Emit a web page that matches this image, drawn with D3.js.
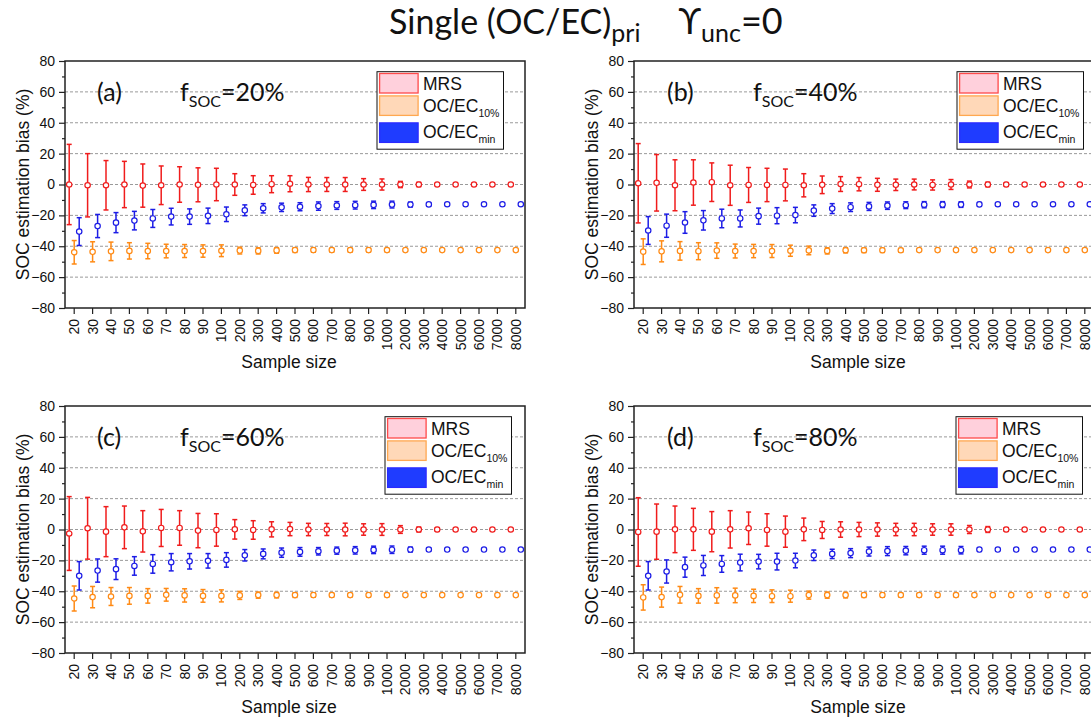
<!DOCTYPE html>
<html>
<head>
<meta charset="utf-8">
<script src="https://cdn.jsdelivr.net/npm/d3@7"></script>
<style>
body { margin: 0; background: #fff; }
text { font-family: Arial, "Liberation Sans", sans-serif; fill: #111; }
</style>
</head>
<body>
<script>
// sample sizes on the x axis
var sizes = ["20", "30", "40", "50", "60", "70", "80", "90", "100", "200", "300", "400", "500",
             "600", "700", "800", "900", "1000", "2000", "3000", "4000", "5000", "6000", "7000", "8000"];
var yTicks = [-80, -60, -40, -20, 0, 20, 40, 60, 80];
var yMinor = [-70, -50, -30, -10, 10, 30, 50, 70];
var gridVals = [-60, -40, -20, 0, 20, 40, 60];
var seriesNames = ["MRS", "OC/EC", "OC/EC"];
var seriesSubs = ["", "10%", "min"];

// (a) fSOC = 20%
var aMrs = [0, -0.5, -0.5, 0, -0.7, -0.5, 0, -0.2, 0, 0, -0.3, 0.2, 0.5, 0, 0, 0, 0, 0, 0, 0, 0, 0, 0, 0, 0];
var aMrsErr = [26, 20.5, 16, 15, 14, 12.5, 11.5, 11, 10.5, 7, 6, 5.5, 5.2, 4.6, 4.5, 4.5, 3.8, 3.6, 2, 1.4, 0.4, 0.3, 0.3, 0.2, 0.2];
var aOc10 = [-43.9, -43.6, -43.3, -43, -43.1, -43.1, -43.1, -43.1, -42.9, -42.8, -43, -42.7, -42.5, -42.5, -42.5, -42.5, -42.5, -42.5, -42.5, -42.5, -42.5, -42.5, -42.5, -42.5, -42.5];
var aOc10Err = [7.6, 6.5, 6, 5.3, 5, 4.4, 4.2, 4, 3.8, 2.2, 2, 1.8, 1.5, 1.4, 1.3, 1.3, 1.2, 1.1, 0.6, 0.5, 0.4, 0.4, 0.3, 0.3, 0.3];
var aMin = [-30.5, -26.9, -24.7, -23.4, -22, -20.8, -20.8, -20.3, -19.3, -16.7, -15.4, -14.8, -14.4, -14, -13.6, -13.4, -13.2, -13, -13, -12.9, -12.8, -12.8, -12.8, -12.8, -12.8];
var aMinErr = [9, 7.5, 6.5, 6, 5.8, 5.4, 5, 5, 4.7, 3.5, 3, 2.7, 2.6, 2.7, 2.5, 2.5, 2.4, 2.2, 1.6, 1, 0.4, 0.3, 0.3, 0.3, 0.3];

// (b) fSOC = 40%
var bMrs = [0.8, 1.1, -0.5, 1.3, 1.5, -0.5, -0.3, -0.3, -0.3, -0.5, -0.2, 0.3, 0.2, -0.2, -0.2, 0, -0.3, 0, 0, 0, 0, 0, 0, 0, 0];
var bMrsErr = [25.7, 18.3, 16.5, 14.7, 12.5, 13, 11.3, 10.8, 10.3, 7.5, 5.7, 4.8, 4.3, 4.2, 3.7, 3.5, 3.3, 3.2, 2.2, 1.5, 1.2, 1.1, 0.9, 0.5, 0.3];
var bOc10 = [-43.5, -43.3, -43, -43.2, -42.8, -43.1, -43.1, -43.1, -42.9, -42.7, -43, -42.6, -42.6, -42.6, -42.6, -42.5, -42.5, -42.5, -42.5, -42.5, -42.5, -42.5, -42.5, -42.5, -42.5];
var bOc10Err = [8.3, 6.8, 6, 5.5, 5, 4.5, 4.3, 4.2, 3.6, 2.8, 2, 1.7, 1.5, 1.4, 1.2, 0.6, 0.5, 0.5, 0.4, 0.4, 0.3, 0.3, 0.3, 0.3, 0.3];
var bMin = [-29.8, -26.7, -24.6, -23.2, -22, -22, -20.5, -20.2, -19.8, -16.9, -15.6, -14.7, -14.2, -13.7, -13.4, -13.1, -13, -13, -12.9, -12.8, -12.8, -12.8, -12.8, -12.8, -12.8];
var bMinErr = [9, 7.5, 7, 6.3, 6, 5.5, 5.2, 5.2, 5, 3.7, 3.2, 2.8, 2.6, 2.4, 2.2, 2, 1.9, 1.8, 1.2, 0.5, 0.4, 0.3, 0.3, 0.3, 0.3];

// (c) fSOC = 60%
var cMrs = [-2.6, 0.8, -1.4, 1.4, -1.2, 1, 1, -0.7, -0.3, 0.1, -0.3, 0.1, 0.3, 0, 0, 0, 0, 0, 0, 0, 0, 0, 0, 0, 0];
var cMrsErr = [23.9, 20, 16.2, 13.8, 13.4, 12, 11.2, 11.1, 10.5, 6.3, 6, 4.9, 4.3, 4, 3.9, 4.1, 3.7, 3.8, 2.5, 1.6, 1.2, 0.5, 0.4, 0.3, 0.3];
var cOc10 = [-44.7, -43.8, -43.4, -43, -43, -42.3, -42.7, -43, -43, -42.7, -42.5, -42.5, -42.5, -42.5, -42.5, -42.5, -42.5, -42.5, -42.5, -42.5, -42.5, -42.5, -42.5, -42.5, -42.5];
var cOc10Err = [8.1, 6.9, 5.8, 5.4, 4.7, 4.1, 4.3, 4.1, 3.9, 2.6, 2, 1.8, 1.5, 1.4, 1.3, 1.2, 1.2, 1.1, 0.6, 0.5, 0.4, 0.4, 0.3, 0.3, 0.3];
var cMin = [-30, -26.6, -25.7, -23.6, -22.3, -21.2, -20.6, -20.3, -19.7, -16.7, -15.8, -15, -14.5, -14.1, -13.7, -13.5, -13.2, -13.1, -13, -13, -13, -13, -13, -13, -13];
var cMinErr = [9.2, 7.5, 6.7, 6, 6, 5.6, 5, 4.7, 4.7, 3.7, 3.2, 3, 2.8, 2.4, 2.3, 2.4, 2.4, 2.4, 1.6, 1, 0.4, 0.3, 0.3, 0.3, 0.3];

// (d) fSOC = 80%
var dMrs = [-1.6, -1.4, 0.1, 0.1, -1.4, 0.1, 0.8, -0.3, -1.4, 0.1, -0.3, 0, 0, 0, 0, 0, 0, 0, 0, 0, 0, 0, 0, 0, 0];
var dMrsErr = [22.2, 17.9, 15.1, 13.6, 13, 12.1, 10.5, 10.5, 10.1, 7.3, 5.5, 5, 4.6, 4.3, 4, 4, 3.7, 3.7, 2.6, 1.9, 1.2, 0.5, 0.4, 0.3, 0.3];
var dOc10 = [-44, -43.8, -42.3, -43, -42.7, -42.7, -43, -43.2, -43.2, -42.5, -42.5, -42.5, -42.5, -42.5, -42.5, -42.5, -42.5, -42.5, -42.5, -42.5, -42.5, -42.5, -42.5, -42.5, -42.5];
var dOc10Err = [8.2, 6.5, 5.4, 4.7, 5, 4.7, 4.3, 4.1, 3.9, 2.6, 2, 1.8, 1.5, 1.4, 1.3, 1.2, 1.2, 1.1, 0.6, 0.5, 0.4, 0.4, 0.3, 0.3, 0.3];
var dMin = [-30, -27.2, -24.4, -23.3, -22.3, -21.4, -20.8, -20.8, -20.1, -16.7, -15.8, -15.3, -14.3, -14, -13.7, -13.4, -13.4, -13.4, -13, -13, -13, -13, -13, -13, -13];
var dMinErr = [9.2, 7.5, 6.5, 6.5, 5.4, 5.4, 4.7, 5.4, 4.7, 3.4, 3, 2.9, 2.9, 2.9, 2.7, 2.6, 2.6, 2.4, 1.2, 0.5, 0.4, 0.3, 0.3, 0.3, 0.3];

var W = 1091, H = 722;
var pw = 460, ph = 247;

var lineColors = ["#f01c1c", "#ff8a14", "#1c1ce6"];
var swFill = ["#ffd0dc", "#ffd8b8", "#1f3cff"];
var swStroke = ["#ff4a4a", "#ffa850", "#2a2aff"];
var dxOff = [-5, 0, 5];

var panels = [
    {tag: "(a)", f: "20%", left: 65, top: 61, leg: 312, lab: 32, fx: 115,
     m: [aMrs, aOc10, aMin], e: [aMrsErr, aOc10Err, aMinErr]},
    {tag: "(b)", f: "40%", left: 634, top: 61, leg: 323, lab: 33, fx: 119,
     m: [bMrs, bOc10, bMin], e: [bMrsErr, bOc10Err, bMinErr]},
    {tag: "(c)", f: "60%", left: 65, top: 406, leg: 320, lab: 32, fx: 115,
     m: [cMrs, cOc10, cMin], e: [cMrsErr, cOc10Err, cMinErr]},
    {tag: "(d)", f: "80%", left: 634, top: 406, leg: 322, lab: 33, fx: 119,
     m: [dMrs, dOc10, dMin], e: [dMrsErr, dOc10Err, dMinErr]}
];

var svg = d3.select("body").append("svg")
            .attr("width", W)
            .attr("height", H);

// title, one text so the pieces flow
var tf = "Lato, 'Open Sans', sans-serif";
var title = svg.append("text")
               .attr("x", 389).attr("y", 34)
               .style("font-family", tf)
               .style("font-size", "34px")
               .text("Single (OC/EC)");
title.append("tspan").attr("dy", 8).style("font-size", "25px").text("pri");
title.append("tspan").attr("dx", 38).attr("dy", -8).style("font-size", "36px").text("\u03d2");
title.append("tspan").attr("dy", 8).style("font-size", "25px").text("unc");
title.append("tspan").attr("dy", -8).style("font-size", "36px").text("=0");

panels.forEach(function(p) {
    var g = svg.append("g").attr("transform", "translate(" + p.left + "," + p.top + ")");

    var x = d3.scaleBand().domain(sizes).range([0, pw]);
    var y = d3.scaleLinear().domain([-80, 80]).range([ph, 0]);
    var cx = function(i) { return x(sizes[i]) + x.bandwidth() / 2; };

    // grid
    g.selectAll(".grid")
     .data(gridVals)
     .enter()
     .append("line")
     .attr("x1", 0).attr("x2", pw)
     .attr("y1", d => y(d)).attr("y2", d => y(d))
     .attr("stroke", "#9a9a9a")
     .attr("stroke-width", 1)
     .attr("stroke-dasharray", "3,2");

    // y axis
    var yAxis = d3.axisLeft(y).tickValues(yTicks).tickSize(6).tickPadding(4);
    var ya = g.append("g").call(yAxis);
    ya.select(".domain").remove();
    ya.selectAll("line").attr("stroke", "#222").attr("stroke-width", 1.2);
    ya.selectAll("text").style("font-size", "14px").attr("fill", "#111");

    var yMin = d3.axisLeft(y).tickValues(yMinor).tickSize(3).tickFormat("");
    var ym = g.append("g").call(yMin);
    ym.select(".domain").remove();
    ym.selectAll("line").attr("stroke", "#222").attr("stroke-width", 1.2);

    // x axis
    var xAxis = d3.axisBottom(x).tickSize(6).tickSizeOuter(0);
    var xa = g.append("g").attr("transform", "translate(0," + ph + ")").call(xAxis);
    xa.select(".domain").remove();
    xa.selectAll("line").attr("stroke", "#222").attr("stroke-width", 1.2);
    xa.selectAll("text")
      .attr("transform", "rotate(-90)")
      .attr("x", -11)
      .attr("y", 0)
      .attr("dy", "0.35em")
      .style("text-anchor", "end")
      .style("font-size", "14px")
      .attr("fill", "#111");

    // frame
    g.append("rect")
     .attr("width", pw).attr("height", ph)
     .attr("fill", "none")
     .attr("stroke", "#222")
     .attr("stroke-width", 1.5);

    // axis titles
    g.append("text")
     .attr("transform", "translate(-36.5," + (ph / 2) + ") rotate(-90)")
     .style("text-anchor", "middle")
     .style("font-size", "17.5px")
     .text("SOC estimation bias (%)");

    g.append("text")
     .attr("x", pw / 2 - 6).attr("y", ph + 60)
     .style("text-anchor", "middle")
     .style("font-size", "17.5px")
     .text("Sample size");

    // series: error bars + open circles
    [1, 2, 0].forEach(function(s) {
        var sg = g.append("g");
        var rows = p.m[s].map((v, i) => ({i: i, v: v, e: p.e[s][i]}));
        sg.selectAll(".bar").data(rows).enter().append("line")
          .attr("x1", d => cx(d.i) + dxOff[s]).attr("x2", d => cx(d.i) + dxOff[s])
          .attr("y1", d => y(d.v - d.e)).attr("y2", d => y(d.v + d.e))
          .attr("stroke", lineColors[s]).attr("stroke-width", 1.5);
        [-1, 1].forEach(function(sign) {
            sg.selectAll(".cap" + sign).data(rows).enter().append("line")
              .attr("x1", d => cx(d.i) + dxOff[s] - 2.5).attr("x2", d => cx(d.i) + dxOff[s] + 2.5)
              .attr("y1", d => y(d.v + sign * d.e)).attr("y2", d => y(d.v + sign * d.e))
              .attr("stroke", lineColors[s]).attr("stroke-width", 1.5);
        });
        sg.selectAll("circle").data(rows).enter().append("circle")
          .attr("cx", d => cx(d.i) + dxOff[s])
          .attr("cy", d => y(d.v))
          .attr("r", 2.7)
          .attr("fill", "#fff")
          .attr("stroke", lineColors[s])
          .attr("stroke-width", 1.2);
    });

    // legend
    var lg = g.append("g").attr("transform", "translate(" + p.leg + ",10.7)");
    lg.append("rect").attr("width", 126.5).attr("height", 77.5)
      .attr("fill", "#fff").attr("stroke", "#111").attr("stroke-width", 1);
    var swY = [1.8, 24.2, 51.2];
    var txY = [18.3, 40.6, 66.6];
    seriesNames.forEach(function(n, k) {
        lg.append("rect").attr("x", 2.6).attr("y", swY[k]).attr("width", 38.5).attr("height", 19.5)
          .attr("fill", swFill[k]).attr("stroke", swStroke[k]).attr("stroke-width", 1.3);
        var t = lg.append("text").attr("x", 46).attr("y", txY[k]).style("font-size", "17.5px").text(n);
        if (seriesSubs[k]) {
            t.append("tspan").attr("dy", 5).style("font-size", "10.5px").text(seriesSubs[k]);
        }
    });

    // panel label
    g.append("text").attr("x", p.lab).attr("y", 40)
     .style("font-family", tf).style("font-size", "25px").text(p.tag);
    var ft = g.append("text").attr("x", p.fx).attr("y", 40)
              .style("font-family", tf).style("font-size", "25px").text("f");
    ft.append("tspan").attr("dy", 6).style("font-size", "16px").text("SOC");
    ft.append("tspan").attr("dy", -6).text("=" + p.f);
});
</script>
</body>
</html>
